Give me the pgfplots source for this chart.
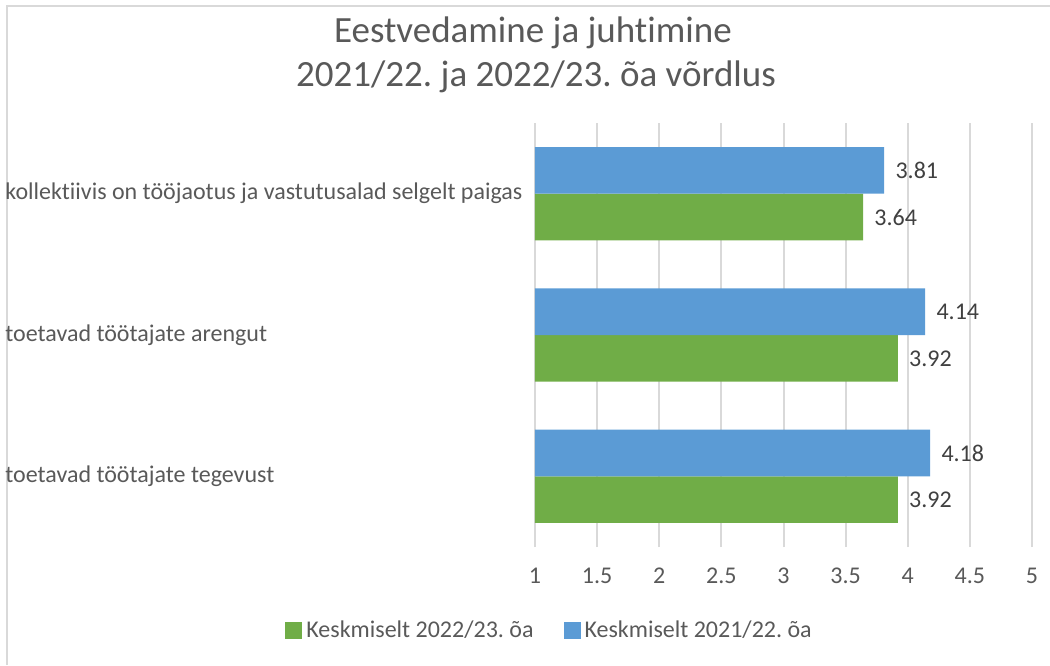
\documentclass[border=0pt]{standalone}
\usepackage{fontspec}
\setmainfont{Carlito}[Ligatures=NoCommon]
\usepackage{pgfplots}
\pgfplotsset{compat=1.18}
\definecolor{cblue}{HTML}{5B9BD5}
\definecolor{cgreen}{HTML}{70AD47}
\definecolor{ctext}{HTML}{595959}
\definecolor{clabel}{HTML}{404040}
\definecolor{cgrid}{HTML}{D9D9D9}
\frenchspacing
\begin{document}
\begin{tikzpicture}
\path[use as bounding box] (0pt,0pt) rectangle (525pt,-332.5pt);
\draw[cgrid, line width=0.75pt] (3.5pt,-332.5pt) -- (3.5pt,-3pt) -- (525pt,-3pt);
\node[font=\fontsize{18.5}{22}\selectfont, text=ctext, anchor=base] at (266.5pt,-21pt) {Eestvedamine ja juhtimine};
\node[font=\fontsize{18.5}{22}\selectfont, text=ctext, anchor=base] at (268pt,-43pt) {2021/22. ja 2022/23. õa võrdlus};
\begin{axis}[
  at={(267.5pt,-273.5pt)}, anchor=south west,
  scale only axis, width=248.5pt, height=212pt,
  xbar, bar width=0.33,
  xmin=1, xmax=5, ymin=-0.5, ymax=2.5,
  xtick={1,1.5,2,2.5,3,3.5,4,4.5,5}, ytick={0,1,2},
  yticklabels={toetavad töötajate tegevust, toetavad töötajate arengut, kollektiivis on tööjaotus ja vastutusalad selgelt paigas},
  axis line style={draw=none}, major tick length=0pt,
  xmajorgrids, grid style={cgrid, line width=1pt},
  tick label style={font=\fontsize{12}{14}\selectfont, text=ctext},
  /pgf/number format/assume math mode=true,
  yticklabel style={anchor=west, inner xsep=0pt, xshift=-265pt},
  xticklabel style={anchor=base, yshift=-18pt},
  point meta=x,
  nodes near coords={\pgfmathprintnumber[fixed,fixed zerofill,precision=2,assume math mode=true]{\pgfplotspointmeta}},
  every node near coord/.append style={font=\fontsize{12}{14}\selectfont, text=clabel, anchor=west, inner xsep=0pt, xshift=5.5pt},
  legend style={at={(-0.503,-0.197)}, anchor=west, draw=none, fill=none, inner sep=0pt,
    legend columns=2, font=\fontsize{12}{14}\selectfont, text=ctext,
    /tikz/every even column/.append style={column sep=13pt}},
  legend image code/.code={\fill[#1] (0pt,-4.25pt) rectangle (8.5pt,4.25pt);},
  legend cell align=left,
]
\addplot[fill=cgreen, draw=none, bar shift=-0.165] coordinates {(3.92,0) (3.92,1) (3.64,2)};
\addlegendentry{Keskmiselt 2022/23. õa}
\addplot[fill=cblue, draw=none, bar shift=0.165] coordinates {(4.18,0) (4.14,1) (3.81,2)};
\addlegendentry{Keskmiselt 2021/22. õa}
\end{axis}
\end{tikzpicture}
\end{document}
